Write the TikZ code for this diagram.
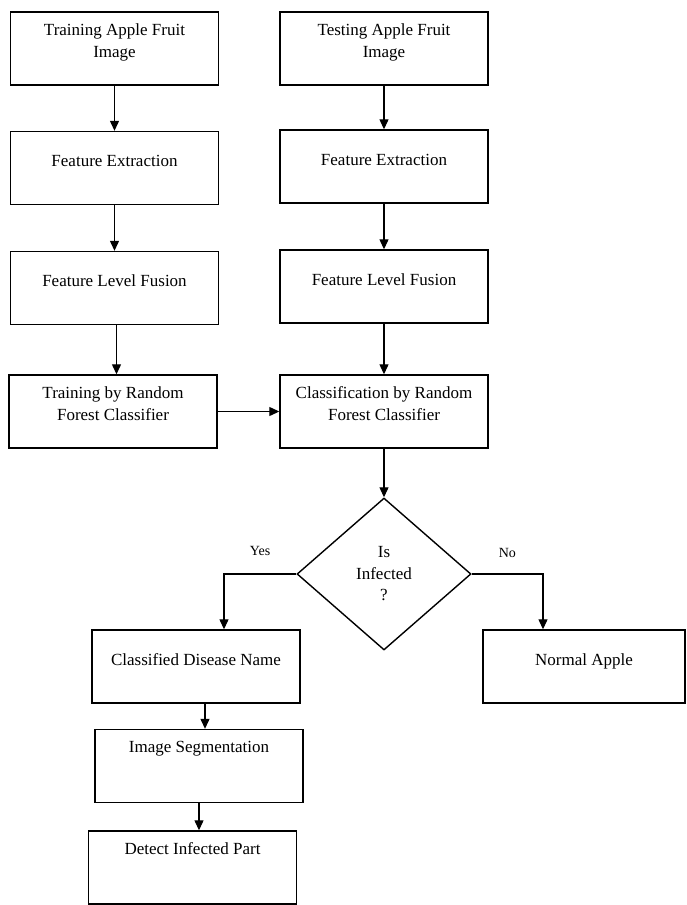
\documentclass[tikz,border=0pt]{standalone}
\usepackage{fontspec}
\setmainfont{Liberation Serif}
\usetikzlibrary{shapes.geometric,arrows.meta}

\begin{document}
\begin{tikzpicture}[x=1pt,y=-1pt,
    stepbox/.style ={rectangle, draw, line width=1.4pt, minimum width=208pt, inner ysep=0pt,
                     align=center, font=\fontsize{17}{22}\selectfont},
    hi/.style={text height=23pt, text depth=50pt},
    hitwo/.style={text height=45pt, text depth=28pt},
    lo/.style={text height=35pt, text depth=38pt},
    decision/.style={diamond, draw, line width=1.4pt, inner sep=0pt, minimum width=174pt,
                     minimum height=152pt, align=center, font=\fontsize{17}{21.5}\selectfont},
    arr/.style={line width=1.2pt, -{Triangle[length=10pt,width=9pt]}},
    lbl/.style={inner sep=0pt, font=\fontsize{14}{16}\selectfont}]
   \useasboundingbox (0,0) rectangle (686,905);
   % training side
   \node[stepbox,hitwo] (trainimg) at (114.5,48.5) {Training Apple Fruit\\Image};
   \node[stepbox,lo] (featext1) at (114.5,168) {Feature Extraction};
   \node[stepbox,lo] (fusion1) at (114.5,288) {Feature Level Fusion};
   \node[stepbox,hitwo] (trainrf) at (113,411.5) {Training by Random\\Forest Classifier};
   % testing side
   \node[stepbox,hitwo] (testimg) at (384,48.5) {Testing Apple Fruit\\Image};
   \node[stepbox,lo] (featext2) at (384,166.5) {Feature Extraction};
   \node[stepbox,lo] (fusion2) at (384,286.5) {Feature Level Fusion};
   \node[stepbox,hitwo] (classrf) at (384,411.5) {Classification by Random\\Forest Classifier};
   % decision and results
   \node[decision] (dec) at (384,574) {Is\\Infected\\?};
   \node[stepbox,lo] (disease) at (196,666.5) {Classified Disease Name};
   \node[stepbox,lo, minimum width=202pt] (normal) at (584,666.5) {Normal Apple};
   \node[stepbox,hi] (segment) at (199,766) {Image Segmentation};
   \node[stepbox,hi] (detect) at (192.5,867.5) {Detect Infected Part};
   \draw[arr] (trainimg) -- (featext1);
   \draw[arr] (featext1) -- (fusion1);
   \draw[arr] ([xshift=2pt]fusion1.south) -- ([xshift=2pt]fusion1.south |- trainrf.north);
   \draw[arr] (trainrf) -- (classrf);
   \draw[arr] (testimg) -- (featext2);
   \draw[arr] (featext2) -- (fusion2);
   \draw[arr] (fusion2) -- (classrf);
   \draw[arr] (classrf) -- (dec);
   \draw[arr] (dec.west) -| node[lbl, pos=0.25, above=18pt] {Yes} ([xshift=28pt]disease.north);
   \draw[arr] (dec.east) -| node[lbl, pos=0.25, above=16pt] {No} ([xshift=-41pt]normal.north);
   \draw[arr] ([xshift=9pt]disease.south) -- ([xshift=9pt]disease.south |- segment.north);
   \draw[arr] (segment.south) -- (segment.south |- detect.north);
 \end{tikzpicture}
\end{document}
